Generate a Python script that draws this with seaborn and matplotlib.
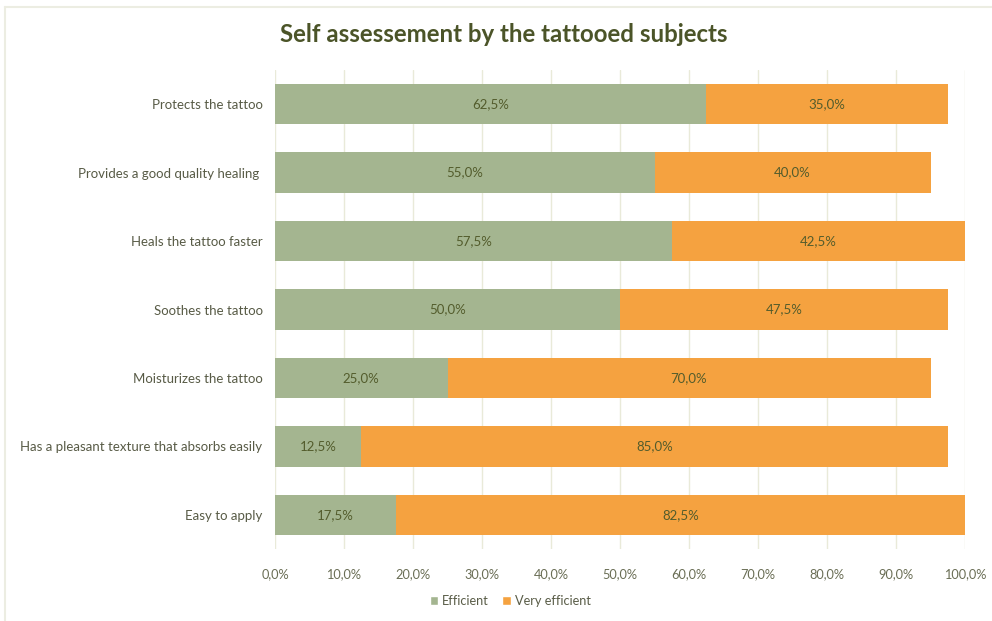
import matplotlib
matplotlib.use("Agg")
import matplotlib.pyplot as plt
from matplotlib.patches import Patch
from matplotlib.lines import Line2D
import seaborn as sns
import pandas as pd
import numpy as np

# Survey answers per claim (share of tattooed subjects, %)
items = [
    "Protects the tattoo",
    "Provides a good quality healing ",
    "Heals the tattoo faster",
    "Soothes the tattoo",
    "Moisturizes the tattoo",
    "Has a pleasant texture that absorbs easily",
    "Easy to apply",
]
efficient = [62.5, 55.0, 57.5, 50.0, 25.0, 12.5, 17.5]
very_efficient = [35.0, 40.0, 42.5, 47.5, 70.0, 85.0, 82.5]
x_ticks = [0, 10, 20, 30, 40, 50, 60, 70, 80, 90, 100]

GREEN = "#a4b590"
ORANGE = "#f5a240"
TEXT = "#585b46"
LABEL = "#535c2c"

sns.set_theme(style="white")
plt.rcParams["font.family"] = ["Lato", "DejaVu Sans"]

df = pd.DataFrame({"item": items, "efficient": efficient, "very": very_efficient})
df["total"] = df["efficient"] + df["very"]

fig = plt.figure(figsize=(9.92, 6.21), dpi=100)
ax = fig.add_axes([275 / 992, 1 - 549 / 621, 690 / 992, 479 / 621])

# Stacked bars: the full stack in orange, the "Efficient" share drawn over it
sns.barplot(data=df, x="total", y="item", order=items, color=ORANGE,
            saturation=1, width=0.59, ax=ax, zorder=2, linewidth=0)
sns.barplot(data=df, x="efficient", y="item", order=items, color=GREEN,
            saturation=1, width=0.59, ax=ax, zorder=3, linewidth=0)

for i, (e, v) in enumerate(zip(efficient, very_efficient)):
    ax.text(e / 2, i, f"{e:.1f}%".replace(".", ","), ha="center", va="center",
            fontsize=9.5, color=LABEL, zorder=4)
    ax.text(e + v / 2, i, f"{v:.1f}%".replace(".", ","), ha="center", va="center",
            fontsize=9.5, color=LABEL, zorder=4)

ax.set_xlim(0, 100)
ax.set_ylim(6.5, -0.5)
ax.set_xticks(x_ticks)
ax.set_xticklabels([f"{t:.1f}%".replace(".", ",") for t in x_ticks])
ax.set_xlabel("")
ax.set_ylabel("")
ax.grid(axis="x", color="#e9ead9", linewidth=1.0, zorder=0)
ax.set_axisbelow(True)
for s in ax.spines.values():
    s.set_visible(False)
ax.tick_params(axis="x", length=0, pad=14, labelsize=9.2, labelcolor="#6a6e55")
ax.tick_params(axis="y", length=0, pad=9, labelsize=9.5, labelcolor=TEXT)

fig.text(504 / 992, 1 - 35 / 621, "Self assessement by the tattooed subjects",
         ha="center", va="center", fontsize=17.3, fontweight="bold", color="#4b5428")

handles = [Patch(facecolor=GREEN, label="Efficient"),
           Patch(facecolor=ORANGE, label="Very efficient")]
fig.legend(handles=handles, loc="center", bbox_to_anchor=(510 / 992, 1 - 601 / 621),
           ncol=2, frameon=False, fontsize=9.2, handlelength=0.7, handleheight=0.7,
           handletextpad=0.3, columnspacing=1.0, labelcolor="#5a5d48")

# Light chart-area frame along the top and left edges
fig.add_artist(Line2D([5 / 992, 1], [1 - 7 / 621, 1 - 7 / 621], color="#ecede2",
                      linewidth=1.5, transform=fig.transFigure))
fig.add_artist(Line2D([5 / 992, 5 / 992], [0, 1 - 7 / 621], color="#ecede2",
                      linewidth=1.5, transform=fig.transFigure))

fig.savefig("out.png", dpi=100)
